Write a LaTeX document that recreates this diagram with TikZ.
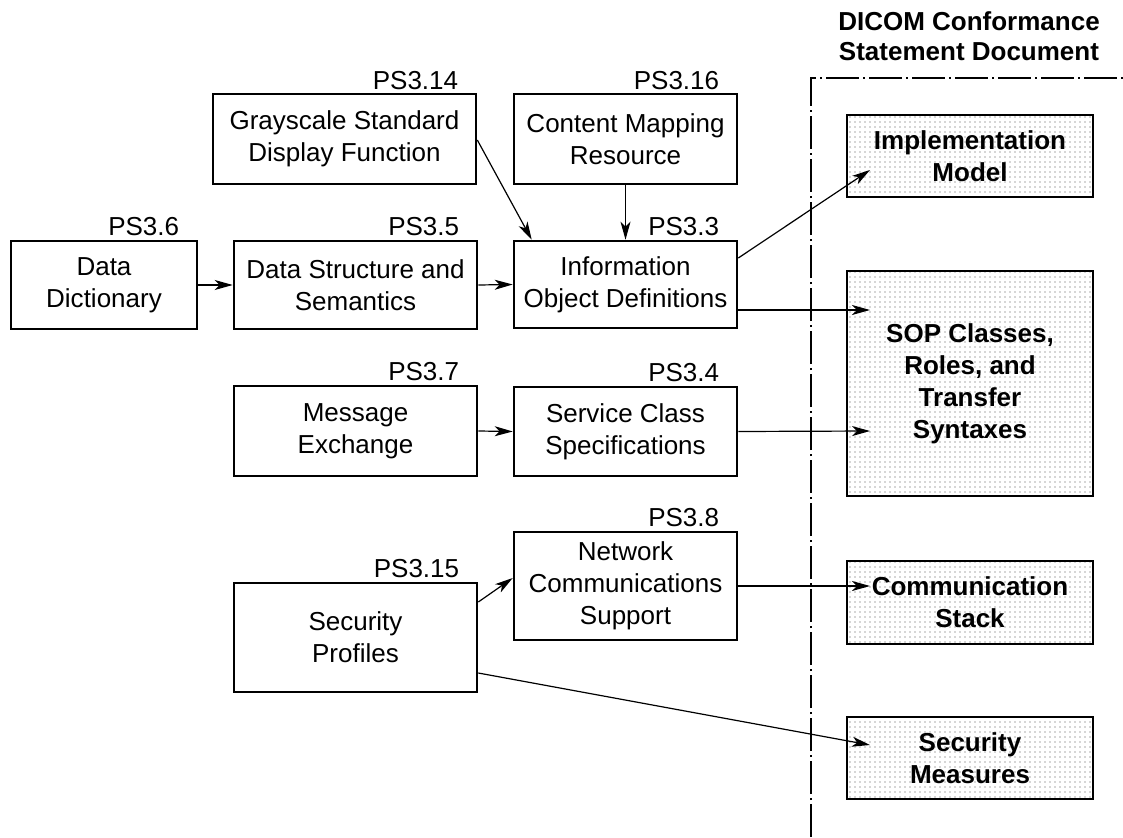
\documentclass[tikz,border=0pt]{standalone}
\usepackage{fontspec}
\setmainfont{Liberation Sans}
\usetikzlibrary{arrows.meta,patterns.meta}
\begin{document}
\begin{tikzpicture}[x=1pt,y=-1pt,
  box/.style={draw, line width=2.6pt, align=center, inner sep=2pt,
    font=\fontsize{26}{32}\selectfont},
  shbox/.style={box, outer sep=0pt, pattern={Dots[distance=5pt,radius=0.6pt]},
    pattern color=black!70, font=\fontsize{26}{32}\selectfont\bfseries},
  pslabel/.style={anchor=base east, inner sep=0pt, font=\fontsize{26}{32}\selectfont},
  arr/.style={line width=1.2pt, -{Stealth[length=18pt,width=10pt,inset=5pt]}},
  dashdot/.style={line width=1.2pt, dash pattern=on 33pt off 4pt on 2pt off 4pt}
]
\useasboundingbox (0,0) rectangle (1123,837);

% title
\node[align=center, inner sep=0pt, font=\fontsize{26}{30}\selectfont\bfseries] (title) at (969,36)
  {DICOM Conformance\\Statement Document};

% frame
\draw[dashdot] (811,837) -- (811,78) -- (1123,78);

% plain boxes
\node[box, minimum width=186pt, minimum height=88pt] (dd) at (104,285) {Data\\Dictionary};
\node[box, minimum width=243pt, minimum height=88pt] (ds) at (355.5,285) {Data Structure and\\Semantics};
\node[box, minimum width=223pt, minimum height=87pt] (iod) at (625.5,284.5) {Information\\Object Definitions};
\node[box, minimum width=263pt, minimum height=90pt] (gs) at (344.5,139) {Grayscale Standard\\Display Function};
\node[box, minimum width=223pt, minimum height=90pt] (cm) at (625.5,139) {Content Mapping\\Resource};
\node[box, minimum width=243pt, minimum height=90pt] (me) at (355.5,431) {Message\\Exchange};
\node[box, minimum width=223pt, minimum height=89pt] (sc) at (625.5,431.5) {Service Class\\Specifications};
\node[box, minimum width=223pt, minimum height=108pt] (nc) at (625.5,586) {Network\\Communications\\Support};
\node[box, minimum width=243pt, minimum height=109pt] (sp) at (355.5,637.5) {Security\\Profiles};

% shaded boxes
\node[shbox, minimum width=246pt, minimum height=82pt] (im) at (970,156) {Implementation\\Model};
\node[shbox, minimum width=246pt, minimum height=225pt] (sop) at (970,383.5) {SOP Classes,\\Roles, and\\Transfer\\Syntaxes};
\node[shbox, minimum width=246pt, minimum height=83pt] (cs) at (970,602.5) {Communication\\Stack};
\node[shbox, minimum width=246pt, minimum height=82pt] (sm) at (970,758) {Security\\Measures};

% part labels
\node[pslabel] (l6) at ([xshift=-19pt,yshift=4pt]dd.north east) {PS3.6};
\node[pslabel] (l5) at ([xshift=-19pt,yshift=4pt]ds.north east) {PS3.5};
\node[pslabel] (l3) at ([xshift=-19pt,yshift=4pt]iod.north east) {PS3.3};
\node[pslabel] (l14) at ([xshift=-19pt,yshift=3pt]gs.north east) {PS3.14};
\node[pslabel] (l16) at ([xshift=-19pt,yshift=3pt]cm.north east) {PS3.16};
\node[pslabel] (l7) at ([xshift=-19pt,yshift=4pt]me.north east) {PS3.7};
\node[pslabel] (l4) at ([xshift=-19pt,yshift=4pt]sc.north east) {PS3.4};
\node[pslabel] (l8) at ([xshift=-19pt,yshift=4pt]nc.north east) {PS3.8};
\node[pslabel] (l15) at ([xshift=-19pt,yshift=4pt]sp.north east) {PS3.15};

% connectors
\draw[arr] (dd.east) -- (ds.west);
\draw[arr] (ds.east) -- (iod.west);
\draw[arr] ([yshift=-1pt]gs.east) -- ([xshift=19pt]iod.north west);
\draw[arr] (cm.south) -- (iod.north);
\draw[arr] ([yshift=26.5pt]iod.east) -- ([xshift=23pt,yshift=-14pt]im.west);
\draw[arr] ([yshift=-25.5pt]iod.east) -- ([xshift=23pt,yshift=73.5pt]sop.west);
\draw[arr] (me.east) -- (sc.west);
\draw[arr] (sc.east) -- ([xshift=23pt,yshift=-47.5pt]sop.west);
\draw[arr] ([yshift=35.5pt]sp.east) -- ([yshift=8pt]nc.west);
\draw[arr] (nc.east) -- ([xshift=23pt,yshift=16.5pt]cs.west);
\draw[arr] ([yshift=-35.5pt]sp.east) -- ([xshift=23pt,yshift=13pt]sm.west);
\end{tikzpicture}
\end{document}
